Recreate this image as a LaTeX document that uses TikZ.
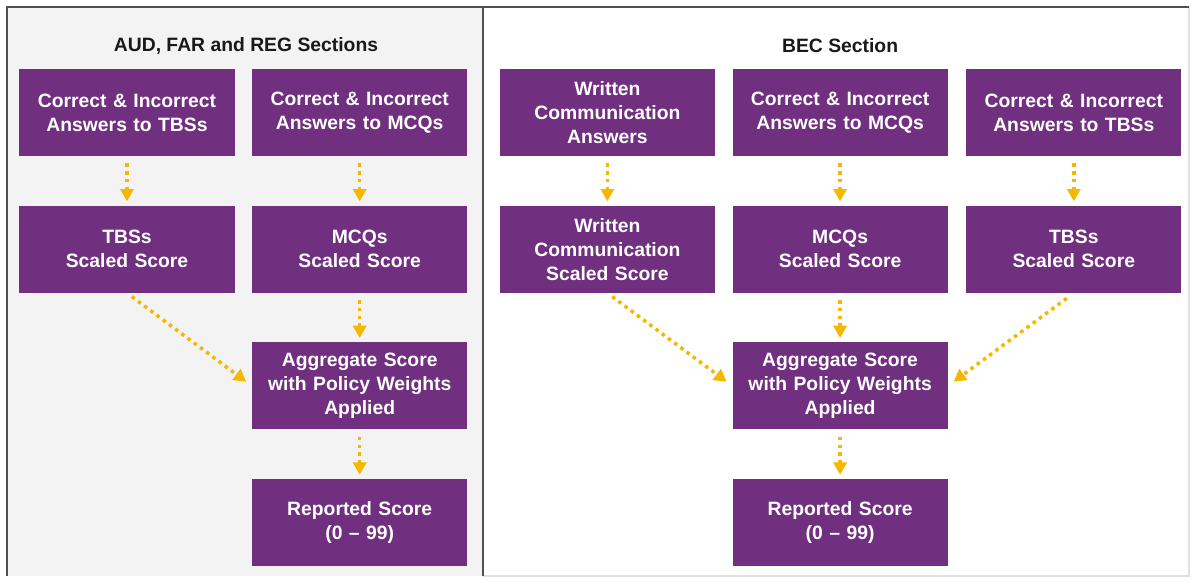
\documentclass[tikz,border=0pt]{standalone}
\usepackage{fontspec}
\setmainfont{Liberation Sans}
\usetikzlibrary{arrows.meta,positioning}
\definecolor{ScorePurple}{HTML}{702F7F}
\definecolor{ArrowGold}{HTML}{F4B800}
\definecolor{PanelGrey}{HTML}{F4F3F4}
\definecolor{FrameGrey}{HTML}{505050}

\begin{document}
\begin{tikzpicture}[
  box/.style={rectangle,fill=ScorePurple,minimum width=4.30cm,minimum height=1.74cm,
              text width=4.1cm,align=center,text=white,inner sep=0pt,
              font=\fontsize{11}{13.6}\selectfont\bfseries},
  head/.style={font=\fontsize{11}{13.6}\selectfont\bfseries,text=black!90},
  arr/.style={-{Triangle[length=7pt,width=7.5pt]},line width=2pt,ArrowGold,
              dash pattern=on 2pt off 2.4pt,shorten <=4pt,shorten >=2.3pt}]
\useasboundingbox (0,0) rectangle (23.86,-11.62);
% panels
\fill[PanelGrey] (0.14,-0.14) rectangle (9.66,-11.52);
\draw[black!12,line width=0.6pt] (9.66,-11.52) -- (23.78,-11.52) -- (23.78,-0.14);
\draw[FrameGrey,line width=0.8pt] (0.14,-11.52) -- (0.14,-0.14) -- (23.78,-0.14);
\draw[FrameGrey,line width=0.8pt] (9.66,-0.14) -- (9.66,-11.52);
% AUD, FAR and REG
\node[box] (a1) at (2.54,-2.25) {Correct \& Incorrect\\Answers to TBSs};
\node[box,right=0.34cm of a1] (a2) {Correct \& Incorrect\\Answers to MCQs};
\node[box,below=0.98cm of a1] (a3) {TBSs\\Scaled Score};
\node[box,below=0.98cm of a2] (a4) {MCQs\\Scaled Score};
\node[box,below=0.98cm of a4] (a5) {Aggregate Score\\with Policy Weights\\Applied};
\node[box,below=0.98cm of a5] (a6) {Reported Score\\(0 -- 99)};
\node[head] (ta) at (4.92,-0.92) {AUD, FAR and REG Sections};
% BEC
\node[box,right=0.64cm of a2] (b1) {Written\\Communication\\Answers};
\node[box,right=0.34cm of b1] (b2) {Correct \& Incorrect\\Answers to MCQs};
\node[box,right=0.36cm of b2] (b3) {Correct \& Incorrect\\Answers to TBSs};
\node[box,below=0.98cm of b1] (b4) {Written\\Communication\\Scaled Score};
\node[box,below=0.98cm of b2] (b5) {MCQs\\Scaled Score};
\node[box,below=0.98cm of b3] (b6) {TBSs\\Scaled Score};
\node[box,below=0.98cm of b5] (b7) {Aggregate Score\\with Policy Weights\\Applied};
\node[box,below=0.98cm of b7] (b8) {Reported Score\\(0 -- 99)};
\node[head,above=0.2cm of b2] (tb) {BEC Section};
% arrows
\draw[arr] (a1) -- (a3); \draw[arr] (a2) -- (a4);
\draw[arr] (a4) -- (a5); \draw[arr] (a5) -- (a6);
\draw[arr,shorten <=3.4pt,shorten >=4pt] (a3.south) -- (a5.west);
\draw[arr] (b1) -- (b4); \draw[arr] (b2) -- (b5); \draw[arr] (b3) -- (b6);
\draw[arr] (b5) -- (b7); \draw[arr] (b7) -- (b8);
\draw[arr,shorten <=3.4pt,shorten >=4pt] (b4.south) -- (b7.west);
\draw[arr,shorten <=5pt,shorten >=4pt] (b6.south) -- (b7.east);
\end{tikzpicture}
\end{document}
